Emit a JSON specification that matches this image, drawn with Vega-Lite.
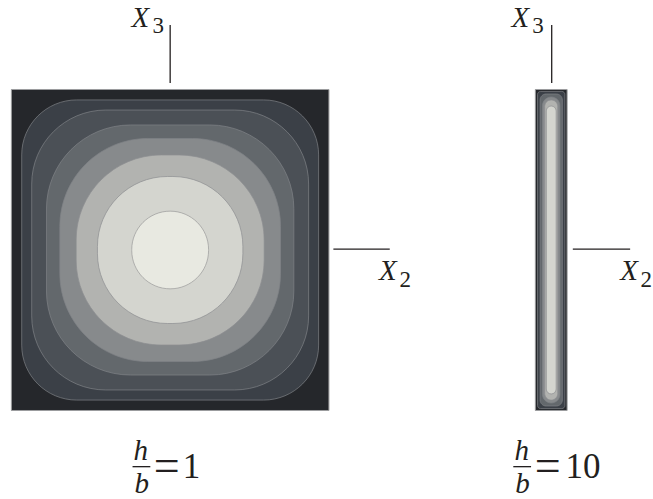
{
  "$schema": "https://vega.github.io/schema/vega-lite/v6.json",
  "width": 653,
  "height": 499,
  "autosize": {"type": "fit", "contains": "padding"},
  "padding": 0,
  "background": "white",
  "config": {"view": {"stroke": null}},
  "datasets": {
    "contours": [
      {"id": "s0", "level": 0, "X2": -1.0, "X2_end": 1.0, "X3": -1.0, "X3_end": 1.0},
      {"id": "s1", "level": 1, "X2": -0.935, "X2_end": 0.935, "X3": -0.935, "X3_end": 0.935},
      {"id": "s2", "level": 2, "X2": -0.872, "X2_end": 0.872, "X3": -0.872, "X3_end": 0.872},
      {"id": "s3", "level": 3, "X2": -0.779, "X2_end": 0.779, "X3": -0.779, "X3_end": 0.779},
      {"id": "s4", "level": 4, "X2": -0.695, "X2_end": 0.695, "X3": -0.695, "X3_end": 0.695},
      {"id": "s5", "level": 5, "X2": -0.592, "X2_end": 0.592, "X3": -0.592, "X3_end": 0.592},
      {"id": "s6", "level": 6, "X2": -0.458, "X2_end": 0.458, "X3": -0.458, "X3_end": 0.458},
      {"id": "s7", "level": 7, "X2": -0.242, "X2_end": 0.242, "X3": -0.242, "X3_end": 0.242},
      {"id": "t0", "level": 0, "X2": 2.3, "X2_end": 2.5, "X3": -1.0, "X3_end": 1.0},
      {"id": "t1", "level": 1, "X2": 2.314, "X2_end": 2.486, "X3": -0.988, "X3_end": 0.988},
      {"id": "t2", "level": 3, "X2": 2.33, "X2_end": 2.47, "X3": -0.972, "X3_end": 0.972},
      {"id": "t3", "level": 4, "X2": 2.345, "X2_end": 2.455, "X3": -0.953, "X3_end": 0.953},
      {"id": "t4", "level": 5, "X2": 2.359, "X2_end": 2.441, "X3": -0.935, "X3_end": 0.935},
      {"id": "t5", "level": 6, "X2": 2.369, "X2_end": 2.431, "X3": -0.897, "X3_end": 0.897}
    ],
    "axisLines": [
      {"X2": 0.0, "X2_end": 0.0, "X3": 1.04, "X3_end": 1.402},
      {"X2": 1.028, "X2_end": 1.383, "X3": 0.006, "X3_end": 0.006},
      {"X2": 2.403, "X2_end": 2.403, "X3": 1.04, "X3_end": 1.402},
      {"X2": 2.536, "X2_end": 2.897, "X3": 0.006, "X3_end": 0.006},
      {"X2": -0.237, "X2_end": -0.125, "X3": -1.35, "X3_end": -1.35},
      {"X2": 2.161, "X2_end": 2.273, "X3": -1.35, "X3_end": -1.35}
    ],
    "labels": [
      {"kind": "italic", "text": "X", "X2": -0.243, "X3": 1.389},
      {"kind": "sub", "text": "3", "X2": -0.112, "X3": 1.352},
      {"kind": "italic", "text": "X", "X2": 1.315, "X3": -0.187},
      {"kind": "sub", "text": "2", "X2": 1.445, "X3": -0.231},
      {"kind": "italic", "text": "X", "X2": 2.15, "X3": 1.389},
      {"kind": "sub", "text": "3", "X2": 2.28, "X3": 1.352},
      {"kind": "italic", "text": "X", "X2": 2.835, "X3": -0.187},
      {"kind": "sub", "text": "2", "X2": 2.963, "X3": -0.231},
      {"kind": "italic", "text": "h", "X2": -0.231, "X3": -1.308},
      {"kind": "italic", "text": "b", "X2": -0.225, "X3": -1.514},
      {"kind": "equals", "text": "=", "X2": -0.103, "X3": -1.44},
      {"kind": "roman", "text": "1", "X2": 0.08, "X3": -1.4206},
      {"kind": "italic", "text": "h", "X2": 2.168, "X3": -1.308},
      {"kind": "italic", "text": "b", "X2": 2.174, "X3": -1.514},
      {"kind": "equals", "text": "=", "X2": 2.297, "X3": -1.44},
      {"kind": "roman", "text": "10", "X2": 2.49, "X3": -1.4206}
    ]
  },
  "encoding": {
    "x": {"field": "X2", "type": "quantitative", "axis": null,
          "scale": {"domain": [-1.0717, 2.9969], "nice": false, "zero": false}},
    "y": {"field": "X3", "type": "quantitative", "axis": null,
          "scale": {"domain": [-1.5514, 1.5576], "nice": false, "zero": false}}
  },
  "layer": [
    {
      "data": {"name": "contours"},
      "transform": [{"filter": "datum.id == 's0' || datum.id == 't0'"}],
      "mark": {"type": "rect", "stroke": "#9b9c9e", "strokeWidth": 1},
      "encoding": {
        "x2": {"field": "X2_end"}, "y2": {"field": "X3_end"},
        "fill": {"field": "level", "type": "ordinal", "legend": null,
                 "scale": {"domain": [0, 1, 2, 3, 4, 5, 6, 7],
                           "range": ["#25272b", "#3b4047", "#4b5056", "#63686c", "#878a8c", "#b2b3b0", "#d4d5cf", "#e8e9e1"]}}
      }
    },
    {
      "data": {"name": "contours"},
      "transform": [{"filter": "datum.id == 's1'"}],
      "mark": {"type": "rect", "cornerRadius": 55, "stroke": "#7f8286", "strokeWidth": 0.7},
      "encoding": {"x2": {"field": "X2_end"}, "y2": {"field": "X3_end"},
                   "fill": {"field": "level", "type": "ordinal", "legend": null}}
    },
    {
      "data": {"name": "contours"},
      "transform": [{"filter": "datum.id == 't1'"}],
      "mark": {"type": "rect", "cornerRadius": 3, "stroke": "#7f8286", "strokeWidth": 0.7},
      "encoding": {"x2": {"field": "X2_end"}, "y2": {"field": "X3_end"},
                   "fill": {"field": "level", "type": "ordinal", "legend": null}}
    },
    {
      "data": {"name": "contours"},
      "transform": [{"filter": "datum.id == 's2'"}],
      "mark": {"type": "rect", "cornerRadius": 74, "stroke": "#7f8286", "strokeWidth": 0.7},
      "encoding": {"x2": {"field": "X2_end"}, "y2": {"field": "X3_end"},
                   "fill": {"field": "level", "type": "ordinal", "legend": null}}
    },
    {
      "data": {"name": "contours"},
      "transform": [{"filter": "datum.id == 't2'"}],
      "mark": {"type": "rect", "cornerRadius": 6, "stroke": "#7f8286", "strokeWidth": 0.7},
      "encoding": {"x2": {"field": "X2_end"}, "y2": {"field": "X3_end"},
                   "fill": {"field": "level", "type": "ordinal", "legend": null}}
    },
    {
      "data": {"name": "contours"},
      "transform": [{"filter": "datum.id == 's3'"}],
      "mark": {"type": "rect", "cornerRadius": 84, "stroke": "#7f8286", "strokeWidth": 0.7},
      "encoding": {"x2": {"field": "X2_end"}, "y2": {"field": "X3_end"},
                   "fill": {"field": "level", "type": "ordinal", "legend": null}}
    },
    {
      "data": {"name": "contours"},
      "transform": [{"filter": "datum.id == 't3'"}],
      "mark": {"type": "rect", "cornerRadius": 9, "stroke": "#7f8286", "strokeWidth": 0.7},
      "encoding": {"x2": {"field": "X2_end"}, "y2": {"field": "X3_end"},
                   "fill": {"field": "level", "type": "ordinal", "legend": null}}
    },
    {
      "data": {"name": "contours"},
      "transform": [{"filter": "datum.id == 's4'"}],
      "mark": {"type": "rect", "cornerRadius": 88, "stroke": "#7f8286", "strokeWidth": 0.7},
      "encoding": {"x2": {"field": "X2_end"}, "y2": {"field": "X3_end"},
                   "fill": {"field": "level", "type": "ordinal", "legend": null}}
    },
    {
      "data": {"name": "contours"},
      "transform": [{"filter": "datum.id == 't4' || datum.id == 't5'"}],
      "mark": {"type": "rect", "cornerRadius": 999, "stroke": "#8c8e90", "strokeWidth": 0.7},
      "encoding": {"x2": {"field": "X2_end"}, "y2": {"field": "X3_end"},
                   "fill": {"field": "level", "type": "ordinal", "legend": null},
                   "order": {"field": "level", "type": "quantitative"}}
    },
    {
      "data": {"name": "contours"},
      "transform": [{"filter": "datum.id == 's5'"}],
      "mark": {"type": "rect", "cornerRadius": 85, "stroke": "#8c8e90", "strokeWidth": 0.7},
      "encoding": {"x2": {"field": "X2_end"}, "y2": {"field": "X3_end"},
                   "fill": {"field": "level", "type": "ordinal", "legend": null}}
    },
    {
      "data": {"name": "contours"},
      "transform": [{"filter": "datum.id == 's6'"}],
      "mark": {"type": "rect", "cornerRadius": 70, "stroke": "#8c8e90", "strokeWidth": 0.7},
      "encoding": {"x2": {"field": "X2_end"}, "y2": {"field": "X3_end"},
                   "fill": {"field": "level", "type": "ordinal", "legend": null}}
    },
    {
      "data": {"name": "contours"},
      "transform": [{"filter": "datum.id == 's7'"}],
      "mark": {"type": "rect", "cornerRadius": 999, "stroke": "#999a9a", "strokeWidth": 0.7},
      "encoding": {"x2": {"field": "X2_end"}, "y2": {"field": "X3_end"},
                   "fill": {"field": "level", "type": "ordinal", "legend": null}}
    },
    {
      "data": {"name": "axisLines"},
      "mark": {"type": "rule", "color": "#231f20", "strokeWidth": 1.3},
      "encoding": {"x2": {"field": "X2_end"}, "y2": {"field": "X3_end"}}
    },
    {
      "data": {"name": "labels"},
      "transform": [{"filter": "datum.kind == 'italic'"}],
      "mark": {"type": "text", "font": "Liberation Serif", "fontStyle": "italic", "fontSize": 29,
               "align": "left", "baseline": "alphabetic", "color": "#231f20"},
      "encoding": {"text": {"field": "text"}}
    },
    {
      "data": {"name": "labels"},
      "transform": [{"filter": "datum.kind == 'sub'"}],
      "mark": {"type": "text", "font": "Liberation Serif", "fontSize": 23,
               "align": "left", "baseline": "alphabetic", "color": "#231f20"},
      "encoding": {"text": {"field": "text"}}
    },
    {
      "data": {"name": "labels"},
      "transform": [{"filter": "datum.kind == 'equals'"}],
      "mark": {"type": "text", "font": "Liberation Serif", "fontSize": 46,
               "align": "left", "baseline": "alphabetic", "color": "#231f20"},
      "encoding": {"text": {"field": "text"}}
    },
    {
      "data": {"name": "labels"},
      "transform": [{"filter": "datum.kind == 'roman'"}],
      "mark": {"type": "text", "font": "Liberation Serif", "fontSize": 35,
               "align": "left", "baseline": "alphabetic", "color": "#231f20"},
      "encoding": {"text": {"field": "text"}}
    }
  ]
}
